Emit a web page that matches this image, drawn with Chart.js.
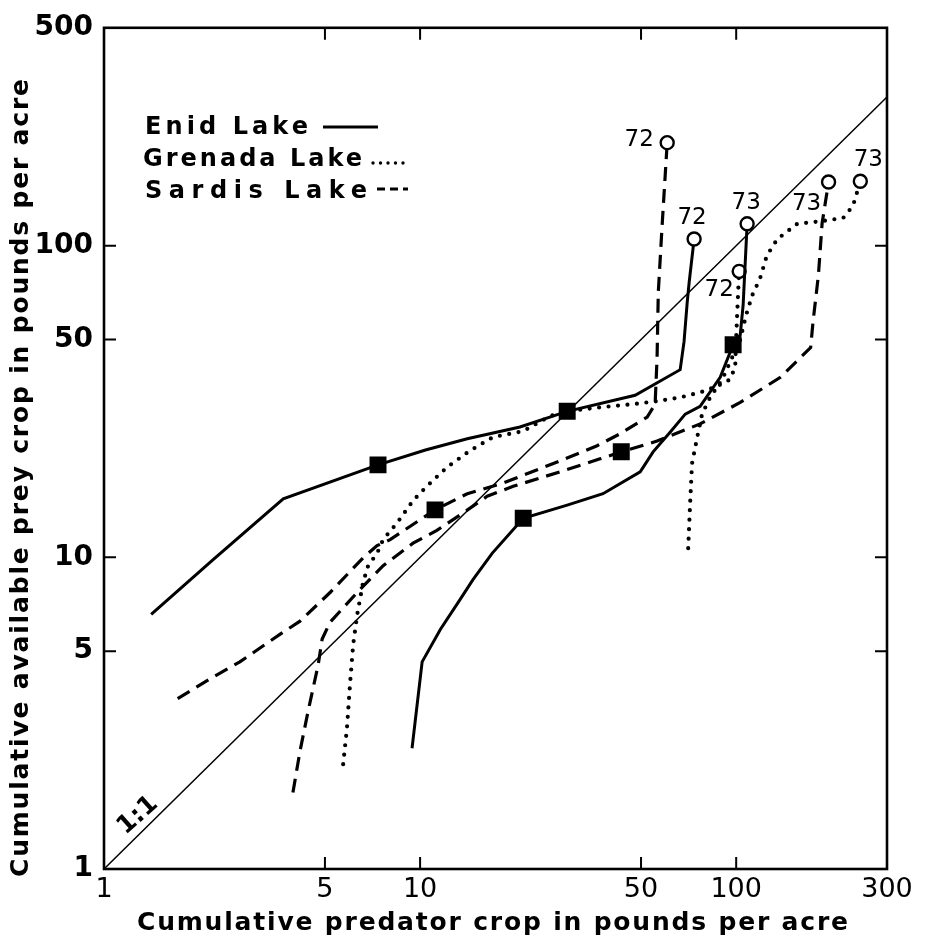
<!DOCTYPE html>
<html>
<head>
<meta charset="utf-8">
<script src="https://cdn.jsdelivr.net/npm/chart.js@4.4.0/dist/chart.umd.min.js"></script>
<style>
  html, body { margin: 0; padding: 0; background: #fff; }
</style>
</head>
<body>
<canvas id="chart" width="931" height="946"></canvas>
<script>
// axis ticks (log-log)
const xTicks = [1, 5, 10, 50, 100, 300];
const yTicks = [1, 5, 10, 50, 100, 500];

// Enid Lake
const enid72X = [1.41, 2.21, 3.69, 7.36, 10.4, 14.1, 20.7, 29.2, 47.9, 66.5, 68.4, 70.0, 71.0, 73.6];
const enid72Y = [6.56, 9.82, 15.4, 19.8, 22.1, 24.0, 26.2, 29.4, 33.1, 40.0, 49.2, 65.9, 76.3, 105];
const enid73X = [9.43, 10.15, 11.6, 13.2, 14.7, 16.9, 21.2, 29.2, 37.9, 49.7, 54.6, 61.8, 69.0, 76.9, 89.0, 97.8, 103, 105.2, 108.3];
const enid73Y = [2.44, 4.62, 5.88, 7.17, 8.48, 10.3, 13.35, 14.7, 16.0, 18.8, 21.8, 25.2, 28.8, 30.5, 37.8, 48.1, 51.7, 64.5, 117.5];

// Grenada Lake
const grenada72X = [5.71, 5.87, 6.0, 6.14, 6.32, 6.6, 6.85, 7.31, 7.64, 8.46, 9.5, 10.5, 12.2, 14.4, 17.0, 21.2, 25.8, 29.2, 37.1, 47.2, 56.2, 66.5, 76.9, 87.1, 95.7, 99.3, 99.8, 100.7, 101.5, 102.2];
const grenada72Y = [2.17, 2.83, 3.9, 5.23, 6.52, 8.3, 9.4, 10.3, 11.4, 12.9, 15.2, 16.9, 19.5, 22.0, 24.3, 25.4, 28.4, 29.4, 30.3, 31.0, 31.7, 32.6, 33.8, 35.4, 37.2, 40.9, 48.1, 59.9, 71.9, 82.7];
const grenada73X = [70.5, 71.5, 72.5, 75.3, 78.0, 82.7, 90.3, 103, 107.5, 112.4, 119, 125, 135, 156, 188, 218, 234, 243, 247];
const grenada73Y = [10.7, 14.9, 20.0, 24.3, 28.8, 32.6, 37.2, 49.9, 59.9, 69.3, 78.5, 92.9, 105, 117.5, 120, 122.7, 134, 152, 161];

// Sardis Lake
const sardis72X = [1.71, 2.17, 2.69, 3.61, 4.17, 5.19, 6.6, 7.31, 8.04, 11.15, 14.1, 18.3, 26.4, 36.3, 42.9, 52.3, 55.4, 56.2, 56.7, 58.3, 59.6, 60.5];
const sardis72Y = [3.52, 4.08, 4.62, 5.67, 6.24, 7.71, 9.96, 10.9, 11.4, 14.2, 16.0, 17.3, 20.0, 22.8, 24.9, 28.2, 31.0, 43.7, 70.9, 116, 167, 214];
const sardis73X = [3.96, 4.17, 4.42, 4.76, 4.9, 5.19, 6.32, 7.64, 9.5, 11.3, 13.7, 16.3, 19.7, 27.7, 37.1, 43.3, 56.2, 76.9, 103, 138, 172, 175, 182, 187, 196];
const sardis73Y = [1.76, 2.39, 3.2, 4.52, 5.47, 6.19, 7.71, 9.4, 11.1, 12.2, 13.9, 15.7, 16.9, 18.8, 20.7, 21.8, 23.6, 26.8, 31.4, 37.8, 47.1, 56.9, 80.3, 118, 160];

// 1:1 reference line
const oneToOneX = [1, 300];
const oneToOneY = [1, 300];

const lakes = ['Enid Lake', 'Grenada Lake', 'Sardis Lake'];

const FONT = "'DejaVu Sans', sans-serif";

function series(xs, ys) {
  return xs.map((x, i) => ({ x: x, y: ys[i] }));
}

// open circle at the last point, filled squares at the given indices
function marks(squares) {
  const isLast = c => c.dataIndex === c.dataset.data.length - 1;
  return {
    pointStyle: c => isLast(c) ? 'circle' : 'rect',
    pointRadius: c => isLast(c) ? 6.5 : (squares.includes(c.dataIndex) ? 12 : 0),
    pointBorderWidth: c => isLast(c) ? 2.4 : 0,
    pointBackgroundColor: c => isLast(c) ? '#fff' : '#000',
    pointBorderColor: '#000'
  };
}

const solid = { borderColor: '#000', borderWidth: 3 };
const dotted = { borderColor: '#000', borderWidth: 4.2, borderDash: [0, 9.5], borderCapStyle: 'round' };
const dashed = { borderColor: '#000', borderWidth: 3.2, borderDash: [14, 8] };

const datasets = [
  Object.assign({ label: 'Enid 72', data: series(enid72X, enid72Y), endLabel: '72', labelAt: [-2, -21] }, solid, marks([3])),
  Object.assign({ label: 'Enid 73', data: series(enid73X, enid73Y), endLabel: '73', labelAt: [-1, -21] }, solid, marks([6, 15])),
  Object.assign({ label: 'Grenada 72', data: series(grenada72X, grenada72Y), endLabel: '72', labelAt: [-20, 19] }, dotted, marks([17])),
  Object.assign({ label: 'Grenada 73', data: series(grenada73X, grenada73Y), endLabel: '73', labelAt: [8, -21] }, dotted, marks([])),
  Object.assign({ label: 'Sardis 72', data: series(sardis72X, sardis72Y), endLabel: '72', labelAt: [-28, -3] }, dashed, marks([9])),
  Object.assign({ label: 'Sardis 73', data: series(sardis73X, sardis73Y), endLabel: '73', labelAt: [-22, 22] }, dashed, marks([15])),
  { label: '1:1', data: series(oneToOneX, oneToOneY), borderColor: '#000', borderWidth: 1.5, pointRadius: 0 }
];

// draw text stretched to a given width with letter spacing
function spacedText(ctx, text, left, y, width) {
  ctx.letterSpacing = '0px';
  const w = ctx.measureText(text).width;
  ctx.letterSpacing = ((width - w) / (text.length - 1)) + 'px';
  ctx.textAlign = 'left';
  ctx.fillText(text, left, y);
  ctx.letterSpacing = '0px';
}

const decor = {
  id: 'decor',
  beforeDatasetsDraw(chart) {
    const { ctx, chartArea: a, scales } = chart;
    ctx.save();
    ctx.strokeStyle = '#000';
    ctx.lineWidth = 2.6;
    ctx.strokeRect(a.left, a.top, a.right - a.left, a.bottom - a.top);
    ctx.lineWidth = 2;
    ctx.beginPath();
    xTicks.slice(1, -1).forEach(v => {
      const px = scales.x.getPixelForValue(v);
      ctx.moveTo(px, a.bottom); ctx.lineTo(px, a.bottom - 12);
      ctx.moveTo(px, a.top); ctx.lineTo(px, a.top + 12);
    });
    yTicks.slice(1, -1).forEach(v => {
      const py = scales.y.getPixelForValue(v);
      ctx.moveTo(a.left, py); ctx.lineTo(a.left + 12, py);
      ctx.moveTo(a.right, py); ctx.lineTo(a.right - 12, py);
    });
    ctx.stroke();
    ctx.restore();
  },
  afterDraw(chart) {
    const { ctx, scales } = chart;
    ctx.save();
    ctx.fillStyle = '#000';
    ctx.textBaseline = 'middle';

    // year labels beside the end circles
    ctx.font = '23px ' + FONT;
    ctx.textAlign = 'center';
    chart.data.datasets.forEach((ds, i) => {
      if (!ds.endLabel) return;
      const pts = chart.getDatasetMeta(i).data;
      const p = pts[pts.length - 1];
      ctx.fillText(ds.endLabel, p.x + ds.labelAt[0], p.y + ds.labelAt[1]);
    });

    // 1:1 label along the diagonal
    const lx = scales.x.getPixelForValue(1.28);
    const ly = scales.y.getPixelForValue(1.28);
    ctx.save();
    ctx.translate(lx, ly - 20);
    ctx.rotate(-Math.PI / 4.3);
    ctx.font = 'bold 25px ' + FONT;
    ctx.fillText('1:1', 0, 0);
    ctx.restore();

    // axis titles
    ctx.font = 'bold 25px ' + FONT;
    ctx.textBaseline = 'middle';
    spacedText(ctx, 'Cumulative predator crop in pounds per acre', 137, 923, 711);
    ctx.save();
    ctx.translate(21, 477);
    ctx.rotate(-Math.PI / 2);
    spacedText(ctx, 'Cumulative available prey crop in pounds per acre', -400, 0, 798);
    ctx.restore();

    // legend
    ctx.font = 'bold 24px ' + FONT;
    ctx.textBaseline = 'alphabetic';
    spacedText(ctx, lakes[0], 145, 134, 163);
    spacedText(ctx, lakes[1], 143, 166, 219);
    spacedText(ctx, lakes[2], 145, 198, 222);
    ctx.strokeStyle = '#000';
    ctx.lineWidth = 3;
    ctx.beginPath(); ctx.moveTo(323, 127); ctx.lineTo(378, 127); ctx.stroke();
    ctx.setLineDash([0, 7.5]); ctx.lineCap = 'round'; ctx.lineWidth = 3.4;
    ctx.beginPath(); ctx.moveTo(373, 163); ctx.lineTo(408, 163); ctx.stroke();
    ctx.setLineDash([8, 5]); ctx.lineCap = 'butt'; ctx.lineWidth = 3;
    ctx.beginPath(); ctx.moveTo(377, 189); ctx.lineTo(408, 189); ctx.stroke();
    ctx.restore();
  }
};

new Chart(document.getElementById('chart'), {
  type: 'scatter',
  data: { datasets: datasets.map(d => Object.assign({ showLine: true, fill: false, tension: 0 }, d)) },
  options: {
    responsive: false,
    animation: false,
    devicePixelRatio: 1,
    events: [],
    layout: { padding: { left: 0, right: 44, top: 21, bottom: 0 } },
    plugins: { legend: { display: false }, tooltip: { enabled: false } },
    scales: {
      x: {
        type: 'logarithmic',
        min: 1, max: 300,
        grid: { display: false, drawTicks: false },
        border: { display: false },
        afterBuildTicks: axis => { axis.ticks = xTicks.map(v => ({ value: v })); },
        afterFit: axis => { axis.height = 77; },
        ticks: {
          autoSkip: false, maxRotation: 0, padding: 5, color: '#000',
          font: { family: FONT, size: 27 },
          callback: v => String(v)
        }
      },
      y: {
        type: 'logarithmic',
        min: 1, max: 500,
        grid: { display: false, drawTicks: false },
        border: { display: false },
        afterBuildTicks: axis => { axis.ticks = yTicks.map(v => ({ value: v })); },
        afterFit: axis => { axis.width = 104; },
        ticks: {
          autoSkip: false, padding: 11, color: '#000',
          font: { family: FONT, size: 28, weight: 'bold' },
          callback: v => String(v)
        }
      }
    }
  },
  plugins: [decor]
});
</script>
</body>
</html>
